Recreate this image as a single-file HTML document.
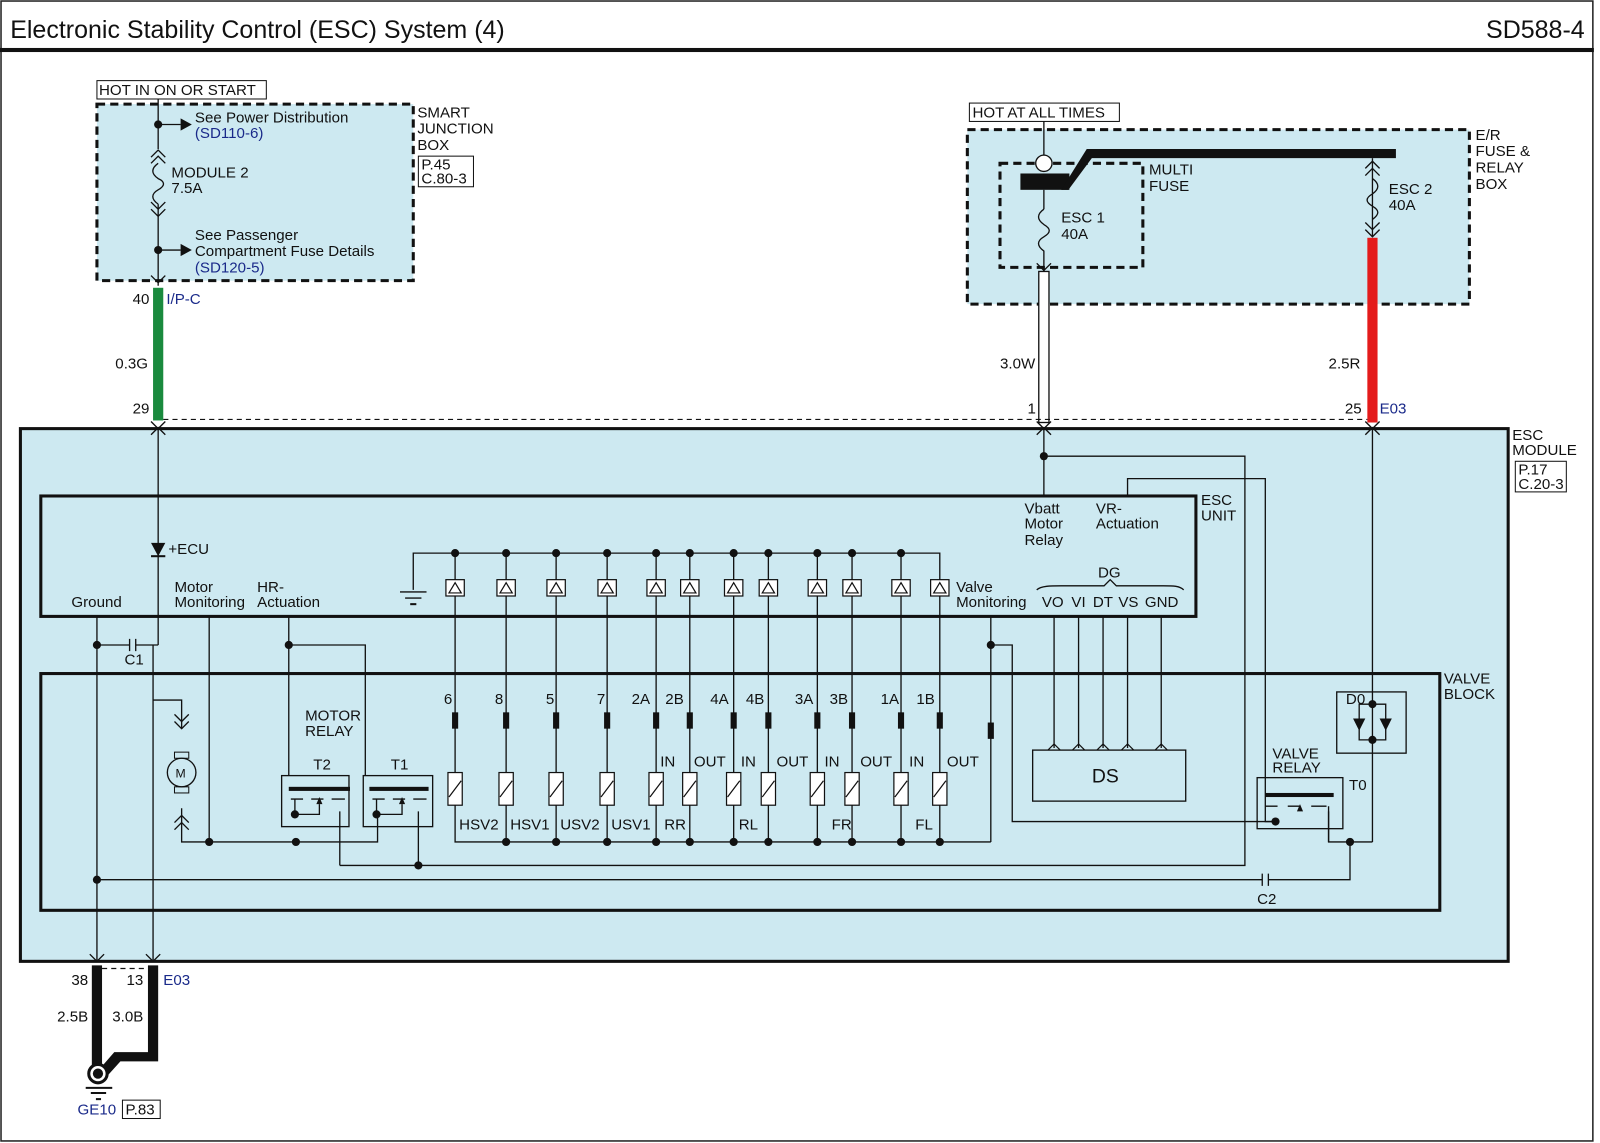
<!DOCTYPE html>
<html><head><meta charset="utf-8"><style>
html,body{margin:0;padding:0;background:#fff}
svg{display:block}
text{font-family:"Liberation Sans",sans-serif;font-size:14.8px;fill:#111}
.b{fill:#1a2a8a}
</style></head><body>
<svg width="1600" height="1143" viewBox="0 0 1568 1120" preserveAspectRatio="none" xmlns="http://www.w3.org/2000/svg">
<rect x="0" y="0" width="1568" height="1120" fill="#fff"/>
<rect x="1" y="1" width="1560" height="1117" fill="none" stroke="#222" stroke-width="1.5"/>
<text x="10" y="37" style="font-size:24.5px">Electronic Stability Control (ESC) System (4)</text>
<text x="1553" y="37" text-anchor="end" style="font-size:24.5px">SD588-4</text>
<rect x="0" y="47" width="1562" height="4" fill="#111"/>

<!-- Smart junction box -->
<rect x="95" y="102" width="310" height="173" fill="#cde9f1" stroke="#111" stroke-width="3" stroke-dasharray="8,5"/>
<rect x="95" y="79" width="166" height="18" fill="#fff" stroke="#111"/>
<text x="97" y="93">HOT IN ON OR START</text>
<text x="409" y="115">SMART</text><text x="409" y="131">JUNCTION</text><text x="409" y="147">BOX</text>
<rect x="410" y="153" width="54" height="30" fill="#fff" stroke="#111"/>
<text x="413" y="166">P.45</text><text x="413" y="180">C.80-3</text>
<g stroke="#111" stroke-width="1.3" fill="none">
<line x1="155" y1="97" x2="155" y2="146"/>
<line x1="155" y1="200" x2="155" y2="280"/>
<path d="M148,154 L155,147 L162,154 M148,160 L155,153 L162,160"/>
<path d="M155,160 C148,165 148,170 155,175 C162,178 162,182 155,186 C148,190 148,195 155,200" />
<path d="M148,198 L155,205 L162,198 M148,205 L155,212 L162,205"/>
<line x1="155" y1="122" x2="177" y2="122"/><line x1="155" y1="245" x2="177" y2="245"/>
<path d="M148,270 L155,277 L162,270"/>
</g>
<circle cx="155" cy="122" r="4" fill="#111"/><circle cx="155" cy="245" r="4" fill="#111"/>
<path d="M177,116 L188,122 L177,128Z M177,239 L188,245 L177,251Z" fill="#111"/>
<text x="191" y="120">See Power Distribution</text><text x="191" y="135" class="b">(SD110-6)</text>
<text x="191" y="235">See Passenger</text><text x="191" y="251">Compartment Fuse Details</text><text x="191" y="267" class="b">(SD120-5)</text>
<text x="168" y="174">MODULE 2</text><text x="168" y="189">7.5A</text>
<text x="130" y="298">40</text><text x="163" y="298" class="b">I/P-C</text>
<rect x="150" y="282" width="10" height="130" fill="#1a8a3e"/>
<text x="113" y="361">0.3G</text><text x="130" y="405">29</text>

<!-- E/R box -->
<rect x="948" y="127" width="492" height="171" fill="#cde9f1" stroke="#111" stroke-width="3" stroke-dasharray="8,5"/>
<rect x="980" y="160" width="140" height="102" fill="none" stroke="#111" stroke-width="3" stroke-dasharray="8,5"/>
<rect x="950" y="101" width="147" height="18" fill="#fff" stroke="#111"/>
<text x="953" y="115">HOT AT ALL TIMES</text>
<line x1="1023" y1="119" x2="1023" y2="152" stroke="#111" stroke-width="1.3"/>
<circle cx="1023" cy="160" r="8" fill="#fff" stroke="#111" stroke-width="1.3"/>
<rect x="1000" y="170" width="48" height="16" fill="#111"/>
<path d="M1040,186 L1065,146 L1368,146 L1368,155 L1070,155 L1047,186Z" fill="#111"/>
<text x="1126" y="171">MULTI</text><text x="1126" y="187">FUSE</text>
<text x="1446" y="137">E/R</text><text x="1446" y="153">FUSE &amp;</text><text x="1446" y="169">RELAY</text><text x="1446" y="185">BOX</text>
<g stroke="#111" stroke-width="1.3" fill="none">
<line x1="1023" y1="186" x2="1023" y2="205"/>
<path d="M1023,205 C1016,210 1016,215 1023,220 C1030,224 1030,228 1023,232 C1016,236 1016,241 1023,246 L1023,266"/>
<path d="M1016,258 L1023,265 L1030,258"/>
<line x1="1345" y1="155" x2="1345" y2="232"/>
<path d="M1338,165 L1345,158 L1352,165 M1338,172 L1345,165 L1352,172"/>
<path d="M1345,175 C1352,180 1352,185 1345,190 C1338,194 1338,198 1345,202 C1352,206 1352,210 1345,215"/>
<path d="M1338,218 L1345,225 L1352,218 M1338,225 L1345,232 L1352,225"/>
</g>
<text x="1040" y="218">ESC 1</text><text x="1040" y="234">40A</text>
<text x="1361" y="190">ESC 2</text><text x="1361" y="206">40A</text>
<rect x="1018" y="266" width="10" height="148" fill="#fff" stroke="#111" stroke-width="1.3"/>
<rect x="1340" y="233" width="10" height="181" fill="#e41b1b"/>
<text x="980" y="361">3.0W</text><text x="1007" y="405">1</text>
<text x="1302" y="361">2.5R</text><text x="1318" y="405">25</text><text x="1352" y="405" class="b">E03</text>
<line x1="160" y1="411" x2="1340" y2="411" stroke="#111" stroke-dasharray="5,4"/>

<!-- ESC module -->
<rect x="20" y="420" width="1458" height="522" fill="#cde9f1" stroke="#111" stroke-width="3"/>
<text x="1482" y="431">ESC</text><text x="1482" y="446">MODULE</text>
<rect x="1485" y="452" width="50" height="30" fill="#fff" stroke="#111"/>
<text x="1488" y="465">P.17</text><text x="1488" y="479">C.20-3</text>
<g stroke="#111" stroke-width="1.3" fill="none">
<path d="M148,426 L155,419 L162,426 M1016,426 L1023,419 L1030,426 M1338,426 L1345,419 L1352,426"/>
<path d="M148,413 L155,420 L162,413 M1016,413 L1023,420 L1030,413 M1338,413 L1345,420 L1352,413"/>
<line x1="155" y1="420" x2="155" y2="632"/>
<line x1="1023" y1="420" x2="1023" y2="486"/>
<path d="M1023,447 H1220 V848 H333"/>
<path d="M1105,486 V469 H1240 V805 H1248"/>
<line x1="1345" y1="420" x2="1345" y2="825"/>
<path d="M95,604 V942 M150,632 V942"/>
<path d="M95,632 H127 M133,632 H155"/><path d="M127,626 V638 M133,626 V638"/>
<path d="M205,604 V825 M283,604 V760 M283,632 H358 V760"/>
<path d="M150,686 H178 V714 M178,792 V825 H370 V795"/>
<path d="M171,700 L178,707 L185,700 M171,707 L178,714 L185,707"/>
<path d="M171,806 L178,799 L185,806 M171,813 L178,806 L185,813"/>
<path d="M333,795 V848 M410,795 V848"/>
<path d="M1033,604 V733 M1057,604 V733 M1081,604 V733 M1105,604 V733 M1138,604 V733"/>
<path d="M971,604 V825 M971,632 H992 V805 H1248"/>
<path d="M95,862 H1237 M1243,862 H1323 V825 M1302,795 V825 H1345"/>
<path d="M1237,856 V868 M1243,856 V868"/>
<path d="M1016,578 C1020,574 1030,574 1040,574 L1082,574 L1088,568 L1094,574 L1140,574 C1150,574 1156,574 1160,578"/>
</g>
<circle cx="1023" cy="447" r="4" fill="#111"/><circle cx="95" cy="632" r="4" fill="#111"/>
<circle cx="283" cy="632" r="4" fill="#111"/><circle cx="971" cy="632" r="4" fill="#111"/>
<circle cx="205" cy="825" r="4" fill="#111"/><circle cx="290" cy="825" r="4" fill="#111"/>
<circle cx="410" cy="848" r="4" fill="#111"/><circle cx="95" cy="862" r="4" fill="#111"/>
<circle cx="1323" cy="825" r="4" fill="#111"/>
<text x="122" y="651">C1</text><text x="1232" y="886">C2</text>

<!-- ESC unit -->
<rect x="40" y="486" width="1132" height="118" fill="none" stroke="#111" stroke-width="3"/>
<text x="1177" y="495">ESC</text><text x="1177" y="510">UNIT</text>
<path d="M148,532 L162,532 L155,545Z" fill="#111"/><line x1="148" y1="545" x2="162" y2="545" stroke="#111" stroke-width="2"/>
<text x="165" y="543">+ECU</text>
<text x="70" y="595">Ground</text>
<text x="171" y="580">Motor</text><text x="171" y="595">Monitoring</text>
<text x="252" y="580">HR-</text><text x="252" y="595">Actuation</text>
<text x="1004" y="503">Vbatt</text><text x="1004" y="518">Motor</text><text x="1004" y="534">Relay</text>
<text x="1074" y="503">VR-</text><text x="1074" y="518">Actuation</text>
<text x="1076" y="566">DG</text>
<text x="1021" y="595">VO</text><text x="1050" y="595">VI</text><text x="1071" y="595">DT</text><text x="1096" y="595">VS</text><text x="1122" y="595">GND</text>
<text x="937" y="580">Valve</text><text x="937" y="595">Monitoring</text>

<!-- Valve block -->
<rect x="40" y="660" width="1371" height="232" fill="none" stroke="#111" stroke-width="3"/>
<text x="1415" y="670">VALVE</text><text x="1415" y="685">BLOCK</text>
<circle cx="178" cy="757" r="14" fill="none" stroke="#111" stroke-width="1.3"/>
<rect x="171" y="737" width="14" height="6" fill="none" stroke="#111"/><rect x="171" y="771" width="14" height="6" fill="none" stroke="#111"/>
<text x="172" y="762" style="font-size:12px">M</text>
<text x="299" y="706">MOTOR</text><text x="299" y="721">RELAY</text>
<text x="307" y="754">T2</text><text x="383" y="754">T1</text>
<g stroke="#111" stroke-width="1.3" fill="none">
<rect x="276" y="760" width="66" height="50"/><rect x="356" y="760" width="68" height="50"/>
<path d="M285,783 H297 M305,783 H317 M325,783 H338 M289,783 V798 H313 V788"/>
<path d="M365,783 H377 M385,783 H397 M405,783 H418 M369,783 V798 H394 V788"/>
<rect x="1232" y="762" width="84" height="50"/>
<path d="M1240,790 H1252 M1262,790 H1274 M1285,790 H1300 M1302,790 V825"/>
<rect x="1310" y="678" width="68" height="60"/>
<path d="M1345,690 H1332 V725 H1358 V690 H1345"/>
<rect x="1012" y="735" width="150" height="50"/>
</g>
<rect x="283" y="771" width="60" height="4" fill="#111"/><rect x="362" y="771" width="58" height="4" fill="#111"/>
<rect x="1240" y="777" width="67" height="4" fill="#111"/>
<path d="M310,788 L313,781 L316,788Z M391,788 L394,781 L397,788Z M1271,795 L1274,788 L1277,795Z" fill="#111"/>
<circle cx="289" cy="798" r="4" fill="#111"/><circle cx="369" cy="798" r="4" fill="#111"/><circle cx="1250" cy="805" r="4" fill="#111"/>
<path d="M1326,704 L1338,704 L1332,716Z M1352,704 L1364,704 L1358,716Z" fill="#111"/>
<circle cx="1345" cy="690" r="4" fill="#111"/><circle cx="1345" cy="725" r="4" fill="#111"/>
<g stroke="#111" stroke-width="1.2" fill="none">
<path d="M1027,735 L1033,729 L1039,735 M1051,735 L1057,729 L1063,735 M1075,735 L1081,729 L1087,735 M1099,735 L1105,729 L1111,735 M1132,735 L1138,729 L1144,735"/>
</g>
<text x="1319" y="690">D0</text>
<text x="1247" y="743">VALVE</text><text x="1247" y="757">RELAY</text><text x="1322" y="774">T0</text>
<text x="1070" y="767" style="font-size:19px">DS</text>

<!-- valve columns -->
<g stroke="#111" stroke-width="1.3" fill="none">
<path d="M405,578 V542 H921 V825 M446,542 V825 H971"/>
<path d="M392,580 H418 M397,586 H413"/>
<path d="M496,542V825 M545,542V825 M595,542V825 M643,542V825 M676,542V825 M719,542V825 M753,542V825 M801,542V825 M835,542V825 M883,542V825"/>
</g>
<rect x="402" y="591" width="6" height="2" fill="#111"/>
<g fill="#fff" stroke="#111" stroke-width="1.2">
<rect x="437" y="568" width="18" height="16"/><rect x="487" y="568" width="18" height="16"/><rect x="536" y="568" width="18" height="16"/><rect x="586" y="568" width="18" height="16"/><rect x="634" y="568" width="18" height="16"/><rect x="667" y="568" width="18" height="16"/><rect x="710" y="568" width="18" height="16"/><rect x="744" y="568" width="18" height="16"/><rect x="792" y="568" width="18" height="16"/><rect x="826" y="568" width="18" height="16"/><rect x="874" y="568" width="18" height="16"/><rect x="912" y="568" width="18" height="16"/>
<rect x="439" y="757" width="14" height="32"/><rect x="489" y="757" width="14" height="32"/><rect x="538" y="757" width="14" height="32"/><rect x="588" y="757" width="14" height="32"/><rect x="636" y="757" width="14" height="32"/><rect x="669" y="757" width="14" height="32"/><rect x="712" y="757" width="14" height="32"/><rect x="746" y="757" width="14" height="32"/><rect x="794" y="757" width="14" height="32"/><rect x="828" y="757" width="14" height="32"/><rect x="876" y="757" width="14" height="32"/><rect x="914" y="757" width="14" height="32"/>
</g>
<g stroke="#111" stroke-width="1.2" fill="none">
<path d="M440,581 l6,-10 l6,10z M490,581 l6,-10 l6,10z M539,581 l6,-10 l6,10z M589,581 l6,-10 l6,10z M637,581 l6,-10 l6,10z M670,581 l6,-10 l6,10z M713,581 l6,-10 l6,10z M747,581 l6,-10 l6,10z M795,581 l6,-10 l6,10z M829,581 l6,-10 l6,10z M877,581 l6,-10 l6,10z M915,581 l6,-10 l6,10z"/>
<path d="M440,781 l12,-16 M490,781 l12,-16 M539,781 l12,-16 M589,781 l12,-16 M637,781 l12,-16 M670,781 l12,-16 M713,781 l12,-16 M747,781 l12,-16 M795,781 l12,-16 M829,781 l12,-16 M877,781 l12,-16 M915,781 l12,-16"/>
</g>
<g fill="#111">
<rect x="443" y="698" width="6" height="16"/><rect x="493" y="698" width="6" height="16"/><rect x="542" y="698" width="6" height="16"/><rect x="592" y="698" width="6" height="16"/><rect x="640" y="698" width="6" height="16"/><rect x="673" y="698" width="6" height="16"/><rect x="716" y="698" width="6" height="16"/><rect x="750" y="698" width="6" height="16"/><rect x="798" y="698" width="6" height="16"/><rect x="832" y="698" width="6" height="16"/><rect x="880" y="698" width="6" height="16"/><rect x="918" y="698" width="6" height="16"/><rect x="968" y="708" width="6" height="16"/>
<circle cx="446" cy="542" r="4"/><circle cx="496" cy="542" r="4"/><circle cx="545" cy="542" r="4"/><circle cx="595" cy="542" r="4"/><circle cx="643" cy="542" r="4"/><circle cx="676" cy="542" r="4"/><circle cx="719" cy="542" r="4"/><circle cx="753" cy="542" r="4"/><circle cx="801" cy="542" r="4"/><circle cx="835" cy="542" r="4"/><circle cx="883" cy="542" r="4"/>
<circle cx="496" cy="825" r="4"/><circle cx="545" cy="825" r="4"/><circle cx="595" cy="825" r="4"/><circle cx="643" cy="825" r="4"/><circle cx="676" cy="825" r="4"/><circle cx="719" cy="825" r="4"/><circle cx="753" cy="825" r="4"/><circle cx="801" cy="825" r="4"/><circle cx="835" cy="825" r="4"/><circle cx="883" cy="825" r="4"/><circle cx="921" cy="825" r="4"/>
</g>
<text x="435" y="690">6</text><text x="485" y="690">8</text><text x="535" y="690">5</text><text x="585" y="690">7</text>
<text x="619" y="690">2A</text><text x="652" y="690">2B</text><text x="696" y="690">4A</text><text x="731" y="690">4B</text><text x="779" y="690">3A</text><text x="813" y="690">3B</text><text x="863" y="690">1A</text><text x="898" y="690">1B</text>
<text x="647" y="751">IN</text><text x="680" y="751">OUT</text><text x="726" y="751">IN</text><text x="761" y="751">OUT</text><text x="808" y="751">IN</text><text x="843" y="751">OUT</text><text x="891" y="751">IN</text><text x="928" y="751">OUT</text>
<text x="450" y="813">HSV2</text><text x="500" y="813">HSV1</text><text x="549" y="813">USV2</text><text x="599" y="813">USV1</text><text x="651" y="813">RR</text><text x="724" y="813">RL</text><text x="815" y="813">FR</text><text x="897" y="813">FL</text>

<!-- bottom ground -->
<g stroke="#111" stroke-width="1.3" fill="none">
<path d="M88,935 L95,942 L102,935 M143,935 L150,942 L157,935"/>
<line x1="100" y1="949" x2="145" y2="949" stroke-dasharray="5,4"/>
</g>
<path d="M90,946 H100 V1045 H90Z" fill="#111"/>
<path d="M145,946 H155 V1040 H118 L100,1060 L92,1054 L112,1031 H145Z" fill="#111"/>
<circle cx="96" cy="1052" r="9" fill="#fff" stroke="#111" stroke-width="3"/><circle cx="96" cy="1052" r="5" fill="#111"/>
<path d="M84,1066 H110 M89,1071 H104" stroke="#111" stroke-width="2"/><rect x="94" y="1076" width="5" height="2" fill="#111"/>
<text x="70" y="965">38</text><text x="124" y="965">13</text><text x="160" y="965" class="b">E03</text>
<text x="56" y="1001">2.5B</text><text x="110" y="1001">3.0B</text>
<text x="76" y="1092" class="b">GE10</text>
<rect x="120" y="1078" width="37" height="18" fill="#fff" stroke="#111"/><text x="123" y="1092">P.83</text>
</svg>
</body></html>
